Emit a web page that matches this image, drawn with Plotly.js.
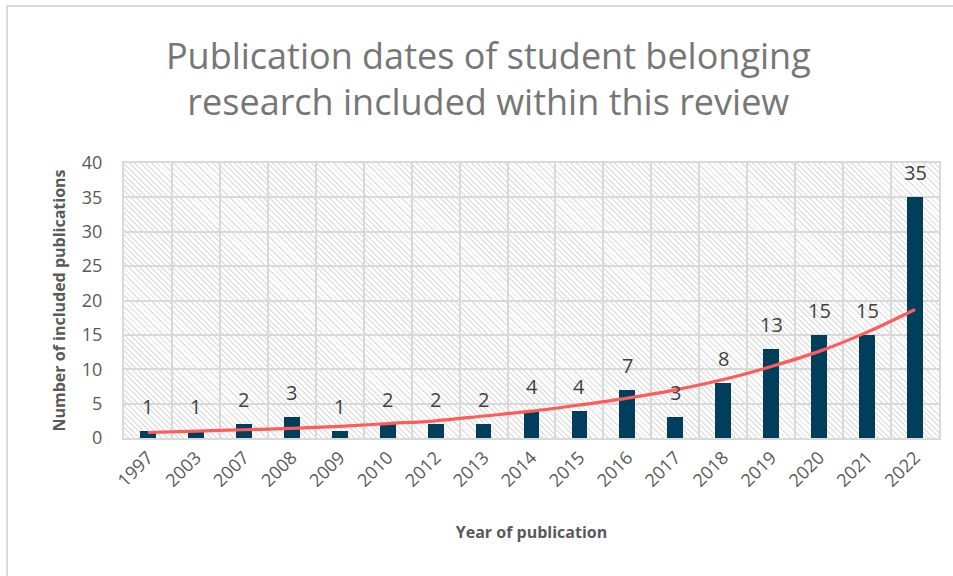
<!DOCTYPE html>
<html>
<head>
<meta charset="utf-8">
<script src="https://cdn.plot.ly/plotly-3.0.1.min.js"></script>
<style>
  html, body { margin:0; padding:0; background:#fff; }
  #wrap { position:relative; width:953px; height:576px; overflow:hidden; }
  #frame { position:absolute; left:6px; top:5px; width:1000px; height:600px;
           border-top:2px solid #dcdcdc; border-left:2px solid #dcdcdc; }
  #hatch { position:absolute; left:124px; top:163px; width:815px; height:275px;
           background: repeating-linear-gradient(45deg, #ffffff 0px, #ffffff 2.6px, #e2e2e2 2.6px, #e2e2e2 3.9px); }
  #chart { position:absolute; left:0; top:0; width:953px; height:576px; }
</style>
</head>
<body>
<div id="wrap">
  <div id="frame"></div>
  <div id="hatch"></div>
  <div id="chart"></div>
</div>
<script>
const years = ["1997","2003","2007","2008","2009","2010","2012","2013","2014","2015","2016","2017","2018","2019","2020","2021","2022"];
const counts = [1,1,2,3,1,2,2,2,4,4,7,3,8,13,15,15,35];
// exponential trendline
const trend = [0.8,1.0,1.2,1.4,1.7,2.1,2.5,3.2,3.9,4.8,5.8,7.0,8.5,10.4,12.6,15.4,18.7];
const yTicks = [0,5,10,15,20,25,30,35,40];

const FONT = "'Open Sans', 'Noto Sans', sans-serif";

const traces = [
  {
    type: 'bar', x: years, y: counts, width: 0.33,
    marker: { color: '#003f5c' }, hoverinfo: 'x+y', showlegend: false
  },
  {
    type: 'scatter', mode: 'lines', x: years, y: trend,
    line: { color: '#ff5b5b', width: 3.2, shape: 'spline' },
    hoverinfo: 'skip', showlegend: false
  }
];

// category index positions for the value labels
const annotations = years.map((yr, i) => ({
  x: i, y: counts[i], xref: 'x', yref: 'y', text: String(counts[i]),
  showarrow: false, yanchor: 'bottom', yshift: 9,
  font: { family: FONT, size: 20, color: '#404040' }
}));

const layout = {
  width: 953, height: 576,
  paper_bgcolor: 'rgba(0,0,0,0)', plot_bgcolor: 'rgba(0,0,0,0)',
  margin: { l: 124, r: 14, t: 163, b: 138 },
  title: {
    text: 'Publication dates of student belonging<br>research included within this review',
    font: { family: FONT, size: 36, color: '#767676' },
    x: 0.447, xref: 'paper', xanchor: 'center',
    y: 0.881, yanchor: 'middle'
  },
  bargap: 0,
  xaxis: {
    type: 'category', categoryorder: 'array', categoryarray: years,
    range: [-0.5, years.length - 0.5],
    tickson: 'boundaries', ticks: '', tickangle: -45,
    showgrid: true, gridcolor: '#d9d9d9', gridwidth: 2,
    showline: true, linecolor: '#d9d9d9', linewidth: 2, mirror: true,
    tickfont: { family: FONT, size: 18, color: '#595959' },
    title: { text: 'Year of publication', standoff: 36,
             font: { family: FONT, size: 16, color: '#595959', weight: 'bold' } }
  },
  yaxis: {
    range: [0, 40], tickvals: yTicks, ticktext: yTicks.map(String),
    showgrid: true, gridcolor: '#d9d9d9', gridwidth: 2, zeroline: false,
    showline: true, linecolor: '#d9d9d9', linewidth: 2, mirror: true,
    ticks: '', ticklabelstandoff: 16,
    tickfont: { family: FONT, size: 18, color: '#595959' },
    title: { text: 'Number of included publications', standoff: 12,
             font: { family: FONT, size: 16, color: '#595959', weight: 'bold' } }
  },
  annotations: annotations
};

Plotly.newPlot('chart', traces, layout, { displayModeBar: false, staticPlot: true });
</script>
</body>
</html>
